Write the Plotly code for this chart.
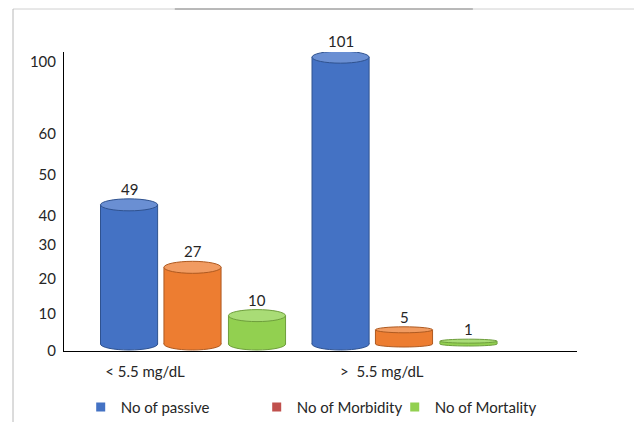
import plotly.graph_objects as go

# ---- data ----
categories = ["< 5.5 mg/dL", ">&nbsp; 5.5 mg/dL"]
series_names = ["No of passive", "No of Morbidity", "No of Mortality"]
passive = [49, 101]
morbidity = [27, 5]
mortality = [10, 1]
y_tick_labels = ["0", "10", "20", "30", "40", "50", "60", "100"]

# ---- layout / style ----
y_tick_pos = [-2.4, 10.6, 22.9, 34.9, 45.1, 59.5, 73.9, 99.3]
x_label_pos = [-0.225, 0.895]
body_colors = ["#4472C4", "#ED7D31", "#92D050"]
top_colors = ["#6A8FD3", "#F19B61", "#A9DC76"]
edge_colors = ["#2F528F", "#AE5A21", "#6E9E3C"]
legend_colors = ["#4472C4", "#C0504D", "#92D050"]
legend_x = [0.1273, 0.4049, 0.6226]
offsets = [-0.30, 0.0, 0.305]
bar_w = 0.27
px_per_unit = 2.84
FONT = "Lato"
FS = 15
TXT = "#262626"

values = [passive, morbidity, mortality]
fig = go.Figure()
shapes = []
annotations = []
for s, (name, vals) in enumerate(zip(series_names, values)):
    xs = [i + offsets[s] for i in range(len(vals))]
    fig.add_trace(go.Bar(
        x=xs, y=vals, width=bar_w, base=0,
        marker=dict(color=body_colors[s], line=dict(width=0)),
        showlegend=False, hoverinfo="skip",
    ))
    fig.add_trace(go.Scatter(
        x=[None], y=[None], mode="markers", name=name,
        marker=dict(symbol="square", size=9, color=legend_colors[s]),
        legend="legend" if s == 0 else f"legend{s+1}",
    ))
    for xc, v in zip(xs, vals):
        hh = (6 if v >= 10 else 3 if v >= 5 else 2) / px_per_unit
        x0, x1 = xc - bar_w / 2, xc + bar_w / 2
        shapes.append(dict(type="circle", xref="x", yref="y", layer="below",
                           x0=x0, x1=x1, y0=-hh, y1=hh,
                           fillcolor=body_colors[s], line=dict(color=edge_colors[s], width=1)))
        for xe in (x0, x1):
            shapes.append(dict(type="line", xref="x", yref="y", layer="above",
                               x0=xe, x1=xe, y0=0, y1=v,
                               line=dict(color=edge_colors[s], width=1)))
        shapes.append(dict(type="circle", xref="x", yref="y", layer="above",
                           x0=x0, x1=x1, y0=v - hh, y1=v + hh,
                           fillcolor=top_colors[s], line=dict(color=edge_colors[s], width=1)))
        annotations.append(dict(x=xc, y=v, xref="x", yref="y", text=str(v),
                                showarrow=False, yanchor="middle",
                                yshift=hh * px_per_unit + 10,
                                font=dict(family=FONT, size=FS, color=TXT)))

# frame lines around the image
shapes.append(dict(type="line", xref="paper", yref="paper", x0=-0.0994, x1=1.12,
                   y0=1.1438, y1=1.1438, line=dict(color="#D0D0D0", width=1), layer="below"))
shapes.append(dict(type="line", xref="paper", yref="paper", x0=0.216, x1=0.797,
                   y0=1.1438, y1=1.1438, line=dict(color="#8A8A8A", width=1), layer="below"))
shapes.append(dict(type="line", xref="paper", yref="paper", x0=-0.0994, x1=-0.0994,
                   y0=1.1438, y1=-0.25, line=dict(color="#B8B8B8", width=1), layer="below"))

leg_common = dict(orientation="h", xref="container", yref="container", y=0.035,
                  xanchor="left", yanchor="middle", bgcolor="rgba(0,0,0,0)",
                  font=dict(family=FONT, size=FS, color=TXT))
fig.update_layout(
    width=634, height=422,
    margin=dict(l=64, r=57, t=52, b=71, autoexpand=False),
    paper_bgcolor="white", plot_bgcolor="white",
    barmode="overlay",
    xaxis=dict(range=[-0.6076, 1.818], showgrid=False, zeroline=False,
               showline=True, linecolor="black", linewidth=1,
               tickmode="array", tickvals=x_label_pos, ticktext=categories,
               ticks="", ticklabelstandoff=7, automargin=False,
               tickfont=dict(family=FONT, size=FS, color=TXT), fixedrange=True),
    yaxis=dict(range=[-2.465, 102.82], showgrid=False, zeroline=False,
               showline=True, linecolor="black", linewidth=1,
               tickmode="array", tickvals=y_tick_pos, ticktext=y_tick_labels,
               ticks="", ticklabelstandoff=4, automargin=False,
               tickfont=dict(family=FONT, size=FS, color=TXT), fixedrange=True),
    legend=dict(x=legend_x[0], **leg_common),
    legend2=dict(x=legend_x[1], **leg_common),
    legend3=dict(x=legend_x[2], **leg_common),
    shapes=shapes,
    annotations=annotations,
)

fig.write_html("out.html")
